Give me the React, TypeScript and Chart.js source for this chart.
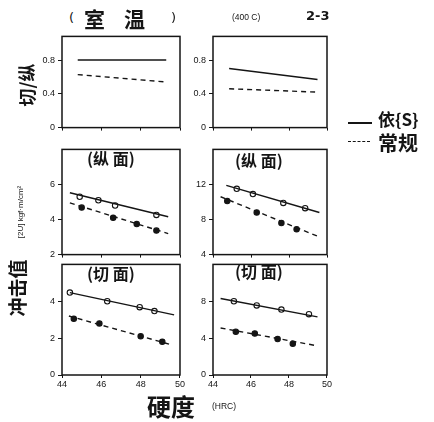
import React, { useEffect, useRef } from "react";
import { Chart, registerables } from "chart.js";
Chart.register(...registerables);

// ---------- data ----------
const hardnessTicks = [44, 46, 48, 50];
const ratioTicks = [0, 0.4, 0.8];
const longLeftTicks = [2, 4, 6];
const longRightTicks = [4, 8, 12];
const cutLeftTicks = [0, 2, 4];
const cutRightTicks = [0, 4, 8];

// top-left: room temperature, ratio cut/longitudinal
const roomSolidX = [44.8, 49.3];
const roomSolidY = [0.8, 0.8];
const roomDashX = [44.8, 49.3];
const roomDashY = [0.627, 0.54];

// top-right: 400 C
const hotSolidX = [44.85, 49.5];
const hotSolidY = [0.7, 0.57];
const hotDashX = [44.85, 49.5];
const hotDashY = [0.46, 0.42];

// middle-left: longitudinal, room temp
const longLSolidX = [44.4, 49.4];
const longLSolidY = [5.53, 4.16];
const longLOpenX = [44.9, 45.85, 46.7, 48.8];
const longLOpenY = [5.3, 5.1, 4.8, 4.26];
const longLDashX = [44.4, 49.4];
const longLDashY = [4.95, 3.2];
const longLFillX = [45.0, 46.6, 47.8, 48.8];
const longLFillY = [4.68, 4.1, 3.74, 3.37];

// middle-right: longitudinal, 400 C
const longRSolidX = [44.7, 49.6];
const longRSolidY = [11.9, 8.8];
const longROpenX = [45.25, 46.1, 47.7, 48.85];
const longROpenY = [11.5, 10.9, 9.9, 9.3];
const longRDashX = [44.4, 49.5];
const longRDashY = [10.6, 6.1];
const longRFillX = [44.75, 46.3, 47.6, 48.4];
const longRFillY = [10.1, 8.8, 7.6, 6.9];

// bottom-left: cut section, room temp
const cutLSolidX = [44.4, 49.7];
const cutLSolidY = [4.47, 3.26];
const cutLOpenX = [44.4, 46.3, 47.95, 48.7];
const cutLOpenY = [4.47, 4.0, 3.68, 3.47];
const cutLDashX = [44.35, 49.6];
const cutLDashY = [3.2, 1.63];
const cutLFillX = [44.6, 45.9, 48.0, 49.1];
const cutLFillY = [3.05, 2.8, 2.1, 1.8];

// bottom-right: cut section, 400 C
const cutRSolidX = [44.4, 49.5];
const cutRSolidY = [8.3, 6.3];
const cutROpenX = [45.1, 46.3, 47.6, 49.05];
const cutROpenY = [8.0, 7.55, 7.1, 6.6];
const cutRDashX = [44.4, 49.4];
const cutRDashY = [5.1, 3.2];
const cutRFillX = [45.2, 46.2, 47.4, 48.2];
const cutRFillY = [4.7, 4.5, 3.9, 3.4];

// ---------- helpers ----------
const INK = "#151515";
const pts = (xs: number[], ys: number[]) => xs.map((x, i) => ({ x, y: ys[i] }));

const lineDs = (xs: number[], ys: number[], dashed: boolean) => ({
  data: pts(xs, ys),
  showLine: true,
  borderColor: INK,
  borderWidth: 1.4,
  borderDash: dashed ? [5, 4] : [],
  pointRadius: 0,
});
const markDs = (xs: number[], ys: number[], open: boolean) => ({
  data: pts(xs, ys),
  showLine: false,
  pointRadius: 2.7,
  pointBackgroundColor: open ? "#fff" : INK,
  pointBorderColor: INK,
  pointBorderWidth: 1.1,
});

const framePlugin = {
  id: "frame",
  afterDraw(chart: any) {
    const { ctx, chartArea } = chart;
    const { left, top, right, bottom } = chartArea;
    ctx.save();
    ctx.strokeStyle = INK;
    ctx.lineWidth = 1.5;
    ctx.strokeRect(left, top, right - left, bottom - top);
    ctx.restore();
  },
};

const tickFont = { family: "'Liberation Sans', Arial, sans-serif", size: 9 };

type PanelProps = {
  left: number;
  top: number;
  fw: number;
  fh: number;
  yMin: number;
  yMax: number;
  yTicks: number[];
  showX: boolean;
  datasets: any[];
};

function Panel({ left, top, fw, fh, yMin, yMax, yTicks, showX, datasets }: PanelProps) {
  const ref = useRef<HTMLCanvasElement>(null);
  const YW = 30;
  const PT = 4;
  const PR = 6;
  const XH = showX ? 18 : 4;
  const W = YW + fw + PR;
  const H = PT + fh + XH;
  useEffect(() => {
    if (!ref.current) return;
    const chart = new Chart(ref.current, {
      type: "scatter",
      data: { datasets },
      options: {
        animation: false,
        responsive: false,
        events: [],
        layout: { padding: { top: PT, right: PR, left: 0, bottom: 0 } },
        plugins: { legend: { display: false }, tooltip: { enabled: false } },
        scales: {
          x: {
            type: "linear",
            min: 44,
            max: 50,
            afterBuildTicks: (s: any) => {
              s.ticks = hardnessTicks.map((v) => ({ value: v }));
            },
            afterFit: (s: any) => {
              s.height = XH;
            },
            ticks: {
              display: showX,
              font: tickFont,
              color: INK,
              padding: 1,
              maxRotation: 0,
              autoSkip: false,
              callback: (v: any) => String(v),
            },
            grid: { drawOnChartArea: false, tickLength: 3, color: INK, lineWidth: 1 },
            border: { display: false },
          },
          y: {
            type: "linear",
            min: yMin,
            max: yMax,
            afterBuildTicks: (s: any) => {
              s.ticks = yTicks.map((v) => ({ value: v }));
            },
            afterFit: (s: any) => {
              s.width = YW;
            },
            ticks: {
              font: tickFont,
              color: INK,
              padding: 3,
              callback: (v: any) => String(v),
            },
            grid: { drawOnChartArea: false, tickLength: 4, color: INK, lineWidth: 1 },
            border: { display: false },
          },
        },
      },
      plugins: [framePlugin],
    } as any);
    return () => chart.destroy();
  }, []);
  return (
    <canvas
      ref={ref}
      width={W}
      height={H}
      style={{ position: "absolute", left: left - YW, top: top - PT, width: W, height: H }}
    />
  );
}

const cjk = "'Noto Sans CJK SC', 'Noto Sans CJK JP', sans-serif";

const abs = (x: number, y: number, extra: React.CSSProperties = {}): React.CSSProperties => ({
  position: "absolute",
  left: x,
  top: y,
  whiteSpace: "nowrap",
  lineHeight: 1,
  color: INK,
  ...extra,
});

export default function App() {
  const LX = 62, LW = 118, RX = 213, RW = 114;
  return (
    <div
      style={{
        position: "fixed",
        left: 0,
        top: 0,
        width: 434,
        height: 422,
        background: "#fff",
        overflow: "hidden",
      }}
    >
      <Panel left={LX} top={32} fw={LW} fh={100} yMin={0} yMax={1.08} yTicks={ratioTicks} showX={false}
        datasets={[lineDs(roomSolidX, roomSolidY, false), lineDs(roomDashX, roomDashY, true)]} />
      <Panel left={RX} top={32} fw={RW} fh={100} yMin={0} yMax={1.08} yTicks={ratioTicks} showX={false}
        datasets={[lineDs(hotSolidX, hotSolidY, false), lineDs(hotDashX, hotDashY, true)]} />
      <Panel left={LX} top={145} fw={LW} fh={114} yMin={2} yMax={8} yTicks={longLeftTicks} showX={false}
        datasets={[
          lineDs(longLSolidX, longLSolidY, false), markDs(longLOpenX, longLOpenY, true),
          lineDs(longLDashX, longLDashY, true), markDs(longLFillX, longLFillY, false),
        ]} />
      <Panel left={RX} top={145} fw={RW} fh={114} yMin={4} yMax={16} yTicks={longRightTicks} showX={false}
        datasets={[
          lineDs(longRSolidX, longRSolidY, false), markDs(longROpenX, longROpenY, true),
          lineDs(longRDashX, longRDashY, true), markDs(longRFillX, longRFillY, false),
        ]} />
      <Panel left={LX} top={260} fw={LW} fh={115} yMin={0} yMax={6} yTicks={cutLeftTicks} showX={true}
        datasets={[
          lineDs(cutLSolidX, cutLSolidY, false), markDs(cutLOpenX, cutLOpenY, true),
          lineDs(cutLDashX, cutLDashY, true), markDs(cutLFillX, cutLFillY, false),
        ]} />
      <Panel left={RX} top={260} fw={RW} fh={115} yMin={0} yMax={12} yTicks={cutRightTicks} showX={true}
        datasets={[
          lineDs(cutRSolidX, cutRSolidY, false), markDs(cutROpenX, cutROpenY, true),
          lineDs(cutRDashX, cutRDashY, true), markDs(cutRFillX, cutRFillY, false),
        ]} />

      {/* titles */}
      <div style={abs(69, 11, { fontSize: 13, fontFamily: "'DejaVu Sans', sans-serif" })}>(</div>
      <div style={abs(84, 8, { fontSize: 21, fontWeight: 700, fontFamily: cjk })}>室</div>
      <div style={abs(124, 8, { fontSize: 21, fontWeight: 700, fontFamily: cjk })}>温</div>
      <div style={abs(171, 11, { fontSize: 13, fontFamily: "'DejaVu Sans', sans-serif" })}>)</div>
      <div style={abs(232, 13, { fontSize: 8.5, fontFamily: "'Liberation Sans', sans-serif" })}>(400 C)</div>
      <div style={abs(306, 9, { fontSize: 13, fontWeight: 700, fontFamily: "'DejaVu Sans', sans-serif" })}>2-3</div>

      {/* panel labels */}
      <div style={abs(87, 150, { fontSize: 16, fontWeight: 700, fontFamily: cjk })}>(纵 面)</div>
      <div style={abs(235, 152, { fontSize: 16, fontWeight: 700, fontFamily: cjk })}>(纵 面)</div>
      <div style={abs(87, 265, { fontSize: 16, fontWeight: 700, fontFamily: cjk })}>(切 面)</div>
      <div style={abs(235, 263, { fontSize: 16, fontWeight: 700, fontFamily: cjk })}>(切 面)</div>

      {/* legend */}
      <div style={abs(348, 122, { width: 24, borderTop: `2px solid ${INK}` })} />
      <div style={abs(378, 110, { fontSize: 17, fontWeight: 700, fontFamily: cjk })}>依{"{S}"}</div>
      <div style={abs(348, 141, { width: 22, borderTop: `1.5px dashed ${INK}` })} />
      <div style={abs(378, 133, { fontSize: 20, fontWeight: 700, fontFamily: cjk })}>常规</div>

      {/* y labels */}
      <div style={abs(26, 85, { fontSize: 18, fontWeight: 700, fontFamily: cjk, transform: "translate(-50%,-50%) rotate(-90deg)" })}>切/纵</div>
      <div style={abs(21, 212, { fontSize: 8, fontFamily: "'Liberation Sans', sans-serif", transform: "translate(-50%,-50%) rotate(-90deg)" })}>[2U]  kgf·m/cm²</div>
      <div style={abs(16, 288, { fontSize: 19, fontWeight: 700, fontFamily: cjk, transform: "translate(-50%,-50%) rotate(-90deg)" })}>冲击值</div>

      {/* x label */}
      <div style={abs(147, 394, { fontSize: 24, fontWeight: 700, fontFamily: cjk })}>硬度</div>
      <div style={abs(212, 402, { fontSize: 8.5, fontFamily: "'Liberation Sans', sans-serif" })}>(HRC)</div>
    </div>
  );
}
